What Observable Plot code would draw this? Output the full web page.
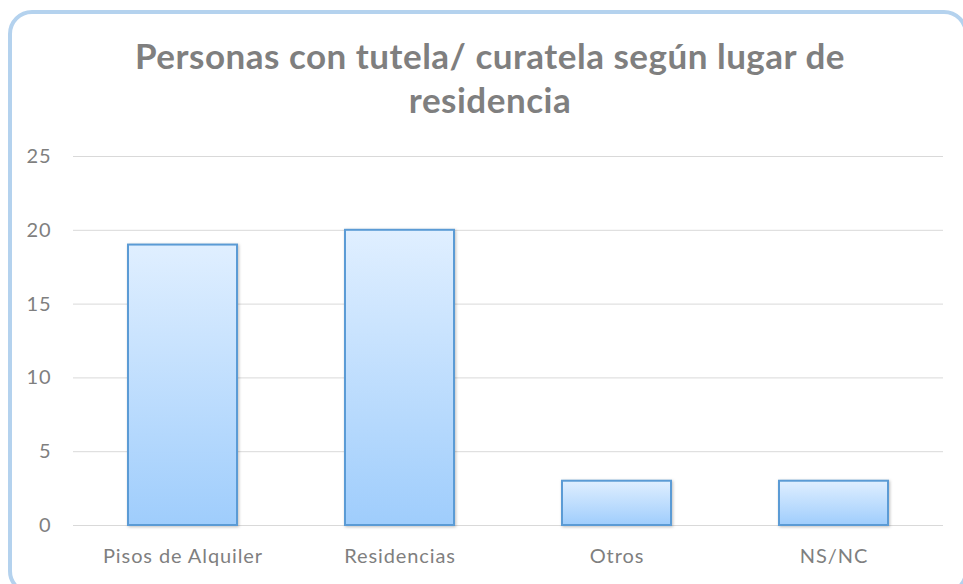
<!DOCTYPE html>
<html><head><meta charset="utf-8">
<script src="https://cdn.jsdelivr.net/npm/d3@7"></script>
<script src="https://cdn.jsdelivr.net/npm/@observablehq/plot@0.6"></script>
<style>
body{margin:0;background:#fff;width:963px;height:584px;overflow:hidden;position:relative;font-family:Lato,"Open Sans",sans-serif;}
#frame{position:absolute;left:8px;top:10px;width:960px;height:585px;box-sizing:border-box;border:4px solid #b4d2ee;border-radius:24px;}
#title{position:absolute;left:0;top:33px;width:980px;text-align:center;color:#7f7f7f;font-weight:bold;font-size:35px;line-height:44px;letter-spacing:0.5px;}
#chart{position:absolute;left:0;top:140px;}
</style></head>
<body>
<div id="frame"></div>
<div id="title">Personas con tutela/ curatela según lugar de<br>residencia</div>
<div id="chart"></div>
<script>
const categories = ["Pisos de Alquiler", "Residencias", "Otros", "NS/NC"];
const values = [19, 20, 3, 3];
const yTicks = [0, 5, 10, 15, 20, 25];

const data = categories.map((c, i) => ({lugar: c, personas: values[i]}));

const plot = Plot.plot({
  width: 963,
  height: 444,
  marginLeft: 73,
  marginRight: 20,
  marginTop: 16,
  marginBottom: 59,
  style: {fontFamily: "Lato, 'Open Sans', sans-serif", fontSize: "20px", color: "#7f7f7f", background: "transparent", letterSpacing: "0.9px"},
  x: {domain: categories, paddingInner: 0.5, paddingOuter: 0.25, label: null},
  y: {domain: [0, 25], ticks: yTicks, label: null},
  marks: [
    Plot.gridY(yTicks, {stroke: "#d9d9d9", strokeOpacity: 1, strokeWidth: 1}),
    Plot.barY(data, {x: "lugar", y: "personas", fill: "url(#barGrad)", stroke: "#5b9bd5", strokeWidth: 2}),
    Plot.axisY(yTicks, {tickSize: 0, tickPadding: 22, fill: "#7f7f7f", fontSize: 20}),
    Plot.axisX({tickSize: 0, tickPadding: 23, fill: "#7f7f7f", fontSize: 20})
  ]
});

const svgNS = "http://www.w3.org/2000/svg";
const defs = document.createElementNS(svgNS, "defs");
defs.innerHTML = '<linearGradient id="barGrad" x1="0" y1="0" x2="0" y2="1"><stop offset="0" stop-color="#e0efff"/><stop offset="1" stop-color="#9fcdfc"/></linearGradient>';
plot.insertBefore(defs, plot.firstChild);
plot.querySelectorAll("g[aria-label='bar'] rect").forEach(r => r.style.filter = "drop-shadow(1px 1px 1.5px rgba(0,0,0,0.25))");
document.getElementById("chart").appendChild(plot);
</script>
</body></html>
